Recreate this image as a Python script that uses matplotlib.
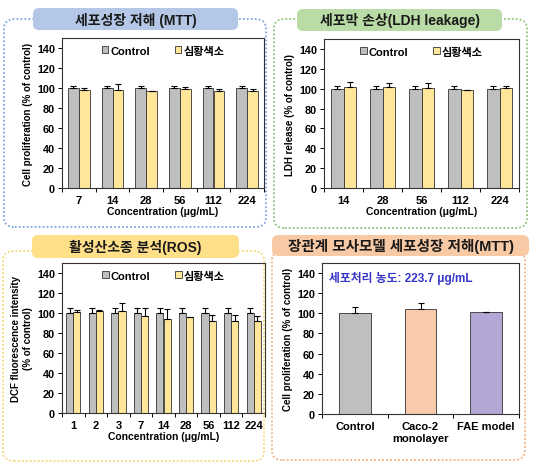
import numpy as np
import matplotlib
matplotlib.use("Agg")
import matplotlib.pyplot as plt
from matplotlib.patches import FancyBboxPatch, Patch

plt.rcParams['font.family'] = ['Liberation Sans', 'Noto Sans CJK KR', 'DejaVu Sans']
plt.rcParams['font.weight'] = 'bold'

# ---- data ----
mtt_conc = ["7", "14", "28", "56", "112", "224"]
mtt_ctrl = [100, 100, 100, 100, 100, 100]
mtt_ctrl_err = [2, 2, 2, 2, 2, 2]
mtt_dye = [98.4, 98.4, 97, 99.4, 97, 97.4]
mtt_dye_err = [2, 5.5, 0, 2, 2, 2]

ldh_conc = ["14", "28", "56", "112", "224"]
ldh_ctrl = [100, 100, 100, 100, 100]
ldh_ctrl_err = [2.7, 2.7, 2.7, 2.7, 2.7]
ldh_dye = [102, 102, 101, 99, 101]
ldh_dye_err = [5, 4, 5, 0, 1.5]

ros_conc = ["1", "2", "3", "7", "14", "28", "56", "112", "224"]
ros_ctrl = [100, 100, 100, 100, 100, 100, 100, 100, 100]
ros_ctrl_err = [5, 5, 5, 5, 5, 5, 5, 5, 5]
ros_dye = [101, 102, 102, 97, 94.5, 96, 92, 92, 92]
ros_dye_err = [2, 1, 8, 8.5, 10, 0.5, 6, 6, 5.5]

gut_models = ["Control", "Caco-2\nmonolayer", "FAE model"]
gut_vals = [100, 104, 101]
gut_err = [6, 6, 0.8]

series_names = ["Control", "심황색소"]
grey = "#bfbfbf"
yellow = "#ffe699"
gut_colors = ["#bfbfbf", "#f8cbad", "#b4a7d6"]

W, H = 543, 464
fig = plt.figure(figsize=(W / 100, H / 100), dpi=100)


def px_axes(l, t, r, b):
    return fig.add_axes([l / W, 1 - b / H, (r - l) / W, (b - t) / H])


def frame(l, t, r, b, color):
    p = FancyBboxPatch((l / W, 1 - b / H), (r - l) / W, (b - t) / H,
                       boxstyle="round,pad=0,rounding_size=0.02",
                       transform=fig.transFigure, fill=False,
                       edgecolor=color, linestyle=(0, (1, 1.2)), linewidth=1.3)
    fig.patches.append(p)


def pill(l, t, r, b, color, text, size=10):
    p = FancyBboxPatch((l / W, 1 - b / H), (r - l) / W, (b - t) / H,
                       boxstyle="round,pad=0,rounding_size=0.012",
                       transform=fig.transFigure, facecolor=color,
                       edgecolor="none", zorder=5)
    fig.patches.append(p)
    fig.text((l + r) / 2 / W, 1 - (t + b) / 2 / H, text, ha="center", va="center",
             fontsize=size, fontweight="bold", color="#1a1a1a", zorder=6)


def style_axes(ax, n, labels, ylabel):
    ax.set_ylim(0, 150)
    ax.set_yticks(range(0, 141, 20))
    ax.set_xlim(-0.5, n - 0.5)
    ax.set_xticks(np.arange(-0.5, n, 1.0))
    ax.set_xticklabels([])
    ax.set_xticks(np.arange(n), minor=True)
    ax.set_xticklabels(labels, minor=True, fontsize=8, fontweight="bold")
    ax.tick_params(axis="x", which="major", length=3, width=0.7, direction="out")
    ax.tick_params(axis="x", which="minor", length=0, pad=5)
    ax.tick_params(axis="y", length=3, width=0.7, labelsize=7.8, pad=2)
    for lab in ax.get_yticklabels():
        lab.set_fontweight("bold")
    for s in ax.spines.values():
        s.set_linewidth(0.8)
        s.set_color("#333333")
    ax.set_ylabel(ylabel, fontsize=7, fontweight="bold", labelpad=3)


def group_bars(ax, labels, c, ce, d, de, ylabel):
    n = len(labels)
    x = np.arange(n)
    w = 0.32
    z = np.zeros(n)
    ax.bar(x - w / 2, c, w, color=grey, edgecolor="#333333", linewidth=0.6,
           yerr=[z, ce], capsize=2.5, error_kw=dict(elinewidth=0.8, capthick=0.8))
    ax.bar(x + w / 2, d, w, color=yellow, edgecolor="#333333", linewidth=0.6,
           yerr=[z, de], capsize=2.5, error_kw=dict(elinewidth=0.8, capthick=0.8))
    style_axes(ax, n, labels, ylabel)
    ax.set_xlabel("Concentration (μg/mL)", fontsize=7.5, fontweight="bold", labelpad=1)
    handles = [Patch(facecolor=grey, edgecolor="#333333", linewidth=0.6),
               Patch(facecolor=yellow, edgecolor="#333333", linewidth=0.6)]
    ax.legend(handles, series_names, loc="upper center", bbox_to_anchor=(0.5, 1.0),
              ncol=2, frameon=False, handlelength=0.6, handleheight=0.6,
              handletextpad=0.2, columnspacing=2.2, borderaxespad=0.3,
              prop={"weight": "bold", "size": 8})


# frames
frame(4, 20, 266, 228, "#7aa6db")
frame(274, 20, 527, 229, "#8cc475")
frame(3, 252, 264, 462, "#f5d87a")
frame(272, 252, 525, 461, "#f4b183")

# panel 1: MTT
ax1 = px_axes(62, 39, 264, 189)
group_bars(ax1, mtt_conc, mtt_ctrl, mtt_ctrl_err, mtt_dye, mtt_dye_err,
           "Cell proliferation (% of control)")

# panel 2: LDH
ax2 = px_axes(324, 40, 519, 189)
group_bars(ax2, ldh_conc, ldh_ctrl, ldh_ctrl_err, ldh_dye, ldh_dye_err,
           "LDH release (% of control)")

# panel 3: ROS
ax3 = px_axes(62, 264, 265, 414)
group_bars(ax3, ros_conc, ros_ctrl, ros_ctrl_err, ros_dye, ros_dye_err,
           "DCF fluorescence intensity\n(% of control)")

# panel 4: gut model
ax4 = px_axes(322, 264, 519, 415)
x4 = np.arange(len(gut_models))
ax4.bar(x4, gut_vals, 0.48, color=gut_colors, edgecolor="#333333", linewidth=0.6,
        yerr=[np.zeros(len(gut_err)), gut_err], capsize=2.5,
        error_kw=dict(elinewidth=0.8, capthick=0.8))
style_axes(ax4, len(gut_models), gut_models, "Cell proliferation (% of control)")
ax4.text(0.035, 0.905, "세포처리 농도: 223.7 μg/mL", transform=ax4.transAxes,
         color="#3535c8", fontsize=8.5, fontweight="bold", va="center")

# title pills
pill(33, 9, 238, 31, "#b4c7e7", "세포성장 저해 (MTT)")
pill(297, 10, 502, 32, "#b9dba5", "세포막 손상(LDH leakage)")
pill(32, 236, 239, 259, "#ffe089", "활성산소종 분석(ROS)")
pill(272, 236, 529, 257, "#f8c9a5", "장관계 모사모델 세포성장 저해(MTT)", size=10.5)

fig.savefig("out.png", dpi=100)
